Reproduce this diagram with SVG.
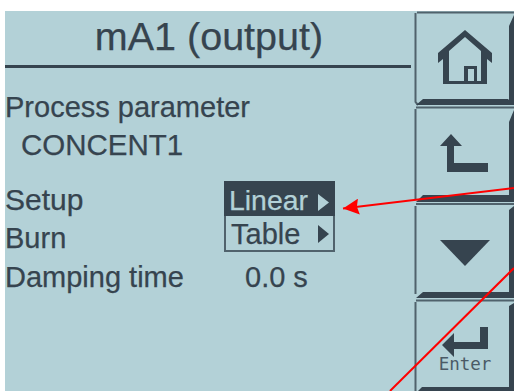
<svg xmlns="http://www.w3.org/2000/svg" width="514" height="391" viewBox="0 0 514 391">
<style>
text{font-family:"Liberation Sans",Arial,sans-serif;fill:#36444f;stroke:#36444f;stroke-width:.25}
.t{font-size:29px}
.d{fill:#36444f}
.k{fill:none;stroke:#50626c;stroke-width:2}
.r{stroke:#f00;stroke-width:2;fill:none}
</style>
<defs>
<marker id="a" markerUnits="userSpaceOnUse" markerWidth="17" markerHeight="16" refX="16" refY="8" orient="auto"><path d="M0 0L16 8L0 16L2 8Z" fill="#f00"/></marker>
</defs>
<rect width="514" height="391" fill="#fff"/>
<rect x="5" y="11" width="509" height="380" fill="#b3d1d7"/>
<g id="title"><text x="209" y="50" font-size="39.500" text-anchor="middle">mA1 (output)</text><rect x="5" y="65" width="406" height="3" class="d"/></g>
<g id="param"><text class="t" x="5" y="116.500">Process parameter</text><text class="t" x="21" y="154.500" style="font-size:29.500px">CONCENT1</text></g>
<g id="labels"><text class="t" x="5" y="209.500" style="font-size:30px">Setup</text><text class="t" x="5" y="247.500">Burn</text><text class="t" x="5" y="286.500">Damping time</text><text class="t" x="245" y="286.500">0.0 s</text></g>
<g id="menu">
<rect x="225" y="182" width="109" height="69" fill="#b3d1d7" stroke="#50626c" stroke-width="2"/>
<rect x="224" y="181" width="111" height="35" class="d"/>
<text class="t" x="229" y="209.500" style="fill:#b3d1d7;stroke:#b3d1d7;font-size:28.400px">Linear</text>
<path d="M318 194L318 211L329 202.500Z" fill="#b3d1d7"/>
<text class="t" x="231" y="243.500">Table</text>
<path d="M318 225L318 243L329 234Z" class="d"/>
</g>
<g id="btn-home">
<path class="k" d="M417 12.500H514M415.500 13V102L418 105"/>
<path class="d" d="M509 26L514 15V105H509ZM416 105L423 99H508L514 105Z"/>
<path class="d" fill-rule="evenodd" d="M465 30L492 53V63L487 59V84H443V59L438 63V53ZM465 37L449 51V81H464V66H477V81H481V51ZM468 69V81H474V69Z"/>
</g>
<g id="btn-back">
<path class="k" d="M416 107.500H514M415.500 109V199"/>
<path class="d" d="M509 122L514 110V202H416L423 195H509Z"/>
<path class="d" d="M440 146L451 134L462 146H454V163H488V172H447V146Z"/>
</g>
<g id="btn-down">
<path class="k" d="M416 204H514M415.500 206V294"/>
<path class="d" d="M509 210L514 206V298H416L423 292H509Z"/>
<path class="d" d="M440 240H490L465 266Z"/>
</g>
<g id="btn-enter">
<path class="k" d="M416 300.500H514M415.500 302V391"/>
<path class="d" d="M509 306L514 303V391H509ZM418 391L422 387H509V391Z"/>
<path class="d" d="M442 345L454 333V342H480V327H488V349H454V357Z"/>
<text x="465" y="370" font-size="17.500" text-anchor="middle" style="font-family:'DejaVu Sans Mono',monospace;fill:#4a5a66;stroke:none">Enter</text>
</g>
<g id="connectors">
<path class="r" d="M514 188L343 208.500" marker-end="url(#a)"/>
<path class="r" d="M514 268L390 391"/>
</g>
</svg>
